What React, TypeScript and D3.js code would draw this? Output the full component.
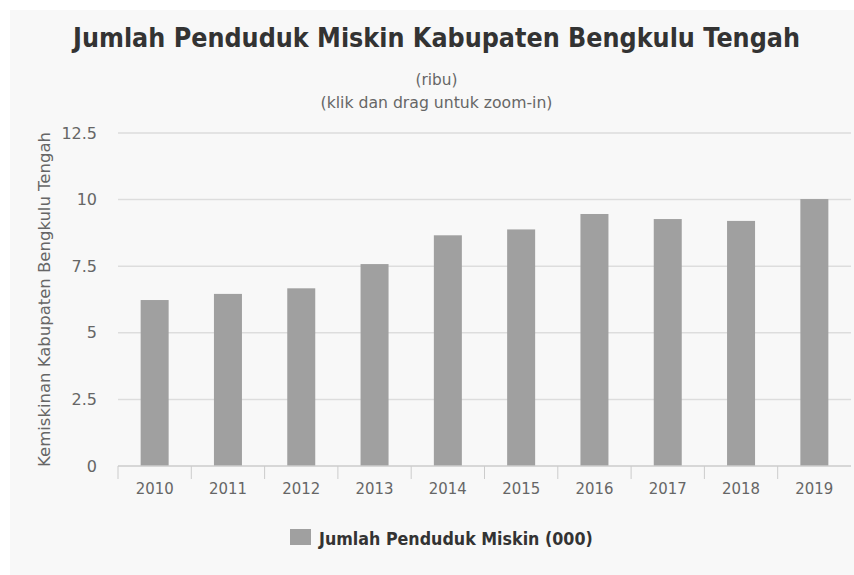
import React, { useLayoutEffect, useRef, useState } from "react";
import * as d3 from "d3";

const years = ["2010", "2011", "2012", "2013", "2014", "2015", "2016", "2017", "2018", "2019"];
const poorPopulation = [6.23, 6.46, 6.67, 7.58, 8.66, 8.88, 9.46, 9.27, 9.2, 10.02];
const yTicks = [0, 2.5, 5, 7.5, 10, 12.5];
const titleText = "Jumlah Penduduk Miskin Kabupaten Bengkulu Tengah";
const subtitleLines = ["(ribu)", "(klik dan drag untuk zoom-in)"];
const yAxisTitle = "Kemiskinan Kabupaten Bengkulu Tengah";
const seriesName = "Jumlah Penduduk Miskin (000)";

const W = 854;
const H = 575;
const FONT = '"DejaVu Sans", "Lucida Grande", sans-serif';

type FitProps = {
  x: number;
  y: number;
  width: number;
  anchor?: "start" | "middle" | "end";
  rotate?: number;
  fontSize: number;
  fontWeight?: string;
  fill: string;
  children: string;
};

function FitText({ x, y, width, anchor = "middle", rotate = 0, fontSize, fontWeight, fill, children }: FitProps) {
  const ref = useRef<SVGTextElement>(null);
  const [sx, setSx] = useState(1);
  useLayoutEffect(() => {
    if (ref.current) {
      const w = ref.current.getComputedTextLength();
      if (w > 0) setSx(width / w);
    }
  }, [width, children, fontSize]);
  return (
    <g transform={`translate(${x},${y}) rotate(${rotate}) scale(${sx},1)`}>
      <text ref={ref} x={0} y={0} textAnchor={anchor} fontSize={fontSize} fontWeight={fontWeight} fill={fill}>
        {children}
      </text>
    </g>
  );
}

export default function App() {
  const left = 118;
  const right = 851;
  const top = 133;
  const bottom = 466;

  const x = d3.scaleBand<string>().domain(years).range([left, right]).paddingInner(0).paddingOuter(0);
  const y = d3.scaleLinear().domain([0, 12.5]).range([bottom, top]);
  const barW = 28;

  return (
    <svg
      width={W}
      height={H}
      style={{ position: "absolute", left: 0, top: 0, display: "block" }}
      fontFamily={FONT}
    >
      <rect x={0} y={0} width={W} height={H} fill="#ffffff" />
      <rect x={10} y={10} width={W - 10} height={H - 10} fill="#f8f8f8" />

      <FitText x={436.5} y={47} width={727} fontSize={26.5} fontWeight="bold" fill="#333333">
        {titleText}
      </FitText>
      {subtitleLines.map((s, i) => (
        <FitText key={s} x={436.5} y={85 + i * 23} width={i === 0 ? 42 : 232} fontSize={16} fill="#666666">
          {s}
        </FitText>
      ))}

      {yTicks.map((t) => (
        <g key={t}>
          {t !== 0 && (
            <line x1={left} x2={right} y1={y(t)} y2={y(t)} stroke="#dddddd" strokeWidth={1.5} />
          )}
          <text x={97} y={y(t) + 5.5} textAnchor="end" fontSize={16} fill="#666666">
            {t}
          </text>
        </g>
      ))}

      <FitText x={50} y={(top + bottom) / 2} rotate={-90} width={335} fontSize={16} fill="#666666">
        {yAxisTitle}
      </FitText>

      {years.map((yr, i) => (
        <rect
          key={yr}
          x={(x(yr) as number) + x.bandwidth() / 2 - barW / 2}
          y={y(poorPopulation[i])}
          width={barW}
          height={bottom - y(poorPopulation[i])}
          fill="#a0a0a0"
        />
      ))}

      <line x1={left} x2={right} y1={bottom} y2={bottom} stroke="#cccccc" strokeWidth={1.5} />
      {years.map((yr) => (
        <line
          key={"t" + yr}
          x1={x(yr) as number}
          x2={x(yr) as number}
          y1={bottom}
          y2={bottom + 13}
          stroke="#cccccc"
          strokeWidth={1}
        />
      ))}
      {years.map((yr) => (
        <FitText
          key={"l" + yr}
          x={(x(yr) as number) + x.bandwidth() / 2}
          y={494}
          width={38}
          fontSize={16}
          fill="#666666"
        >
          {yr}
        </FitText>
      ))}

      <rect x={290} y={529} width={21} height={16} fill="#a0a0a0" />
      <FitText x={319} y={545} width={274} anchor="start" fontSize={17.5} fontWeight="bold" fill="#333333">
        {seriesName}
      </FitText>
    </svg>
  );
}
